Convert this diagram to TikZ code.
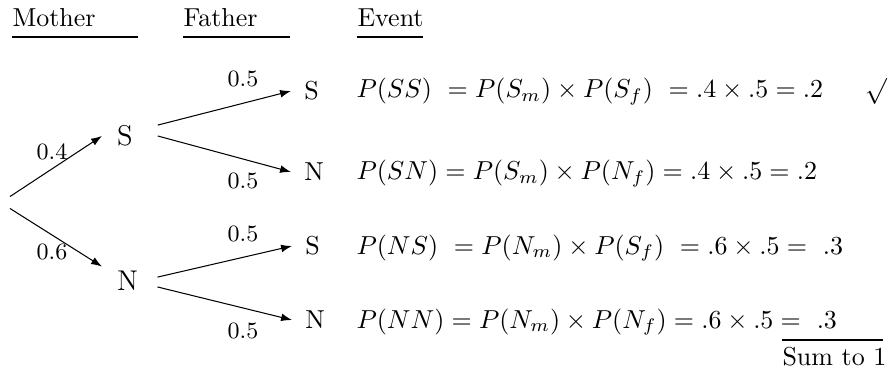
\documentclass[tikz,border=0pt]{standalone}
\usetikzlibrary{arrows.meta}
\begin{document}
\begin{tikzpicture}[x=0.385pt,y=-0.385pt,
  arr/.style={-{Latex[length=4.2pt,width=3pt]}, line width=0.4pt},
  lvlone/.style={anchor=west, font=\fontsize{11}{13}\selectfont, inner xsep=5.6pt, inner ysep=1.6pt},
  lvltwo/.style={anchor=west, inner xsep=4.9pt, inner ysep=1pt},
  prob/.style={font=\small, inner sep=0pt},
  eqn/.style={anchor=base west, inner sep=0pt},
  head/.style={anchor=base west, inner sep=0pt},
  uline/.style={line width=0.4pt}]
\useasboundingbox (0,0) rectangle (889,369);
% headers
\node[head] (hm) at (12,27) {Mother};
\node[head] (hf) at (183,27) {Father};
\node[head] (he) at (357,27) {Event};
\draw[uline] (12,37) -- (138,37);
\draw[uline] (183,37) -- (290,37);
\draw[uline] (357,37) -- (423,37);
% tree nodes
\node[inner sep=0pt, minimum width=0.1pt, minimum height=4.2pt] (root) at (10,202.5) {};
\node[lvlone] (S1) at (102,136) {S};
\node[lvlone] (N1) at (102,281) {N};
\node[lvltwo] (S2) at (291,91) {S};
\node[lvltwo] (N2) at (291,172) {N};
\node[lvltwo] (S3) at (292,246) {S};
\node[lvltwo] (N3) at (292,320) {N};
% connectors
\draw[arr] (root.north) -- (S1.west);
\draw[arr] (root.south) -- (N1.north west);
\draw[arr] ([shift={(3.9pt,4.2pt)}]S1.east) -- (S2.west);
\draw[arr] ([shift={(3.9pt,0pt)}]S1.east) -- (N2.west);
\draw[arr] ([shift={(1.7pt,1.5pt)}]N1.east) -- (S3.west);
\draw[arr] ([shift={(1.7pt,-2.3pt)}]N1.east) -- (N3.west);
% probabilities
\node[prob] (p1) at (52,151.5) {0.4};
\node[prob] (p2) at (52,252) {0.6};
\node[prob] (p3) at (243,79) {0.5};
\node[prob] (p4) at (243,181) {0.5};
\node[prob] (p5) at (243,234) {0.5};
\node[prob] (p6) at (243,331) {0.5};
% events
\node[eqn] (e1) at (356,98) {$P(SS)\ = P(S_m)\times P(S_f)\ = .4\times .5 = .2$};
\node[eqn] (e2) at (356,180) {$P(SN) = P(S_m)\times P(N_f) = .4\times .5 = .2$};
\node[eqn] (e3) at (356,254) {$P(NS)\ = P(N_m)\times P(S_f)\ = .6\times .5 = \ .3$};
\node[eqn] (e4) at (356,328) {$P(NN) = P(N_m)\times P(N_f) = .6\times .5 = \ .3$};
\node[inner sep=0pt] (chk) at (876,91.5) {$\surd$};
\node[head] (sum) at (782,365) {Sum to 1};
\draw[uline] (782,340) -- (883,340);
\end{tikzpicture}
\end{document}
